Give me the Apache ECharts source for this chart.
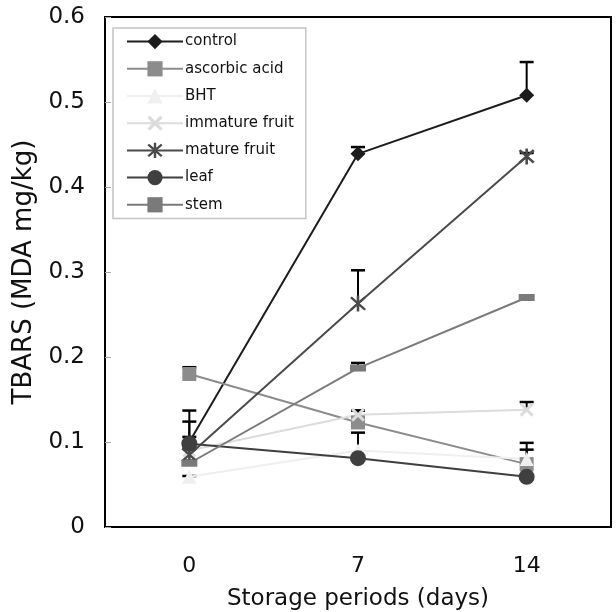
<!DOCTYPE html>
<html>
<head>
<meta charset="utf-8">
<script src="https://cdn.jsdelivr.net/npm/echarts@6/dist/echarts.min.js"></script>
<style>
  html, body { margin: 0; padding: 0; background: #fff; }
  #chart { width: 616px; height: 612px; }
</style>
</head>
<body>
<div id="chart"></div>
<script>
const days = ['0', '7', '14']

// means
const control = [0.100, 0.439, 0.508]
const ascorbicAcid = [0.180, 0.123, 0.074]
const bht = [0.059, 0.090, 0.080]
const immatureFruit = [0.090, 0.132, 0.138]
const matureFruit = [0.085, 0.263, 0.436]
const leaf = [0.098, 0.081, 0.059]
const stem = [0.075, 0.187, 0.270]

// top of error bars (mean + sd)
const controlTop = [0.137, 0.447, 0.547]
const ascorbicTop = [0.188, 0.137, 0.091]
const bhtTop = [0.060, 0.111, 0.099]
const immatureTop = [0.092, 0.137, 0.147]
const matureTop = [0.106, 0.302, 0.440]
const leafTop = [0.124, 0.083, 0.060]
const stemTop = [0.078, 0.193, 0.271]

const yTicks = [0, 0.1, 0.2, 0.3, 0.4, 0.5, 0.6]

const font = 'DejaVu Sans'
const crossPath = 'path://M0,1.5L1.5,0L5,3.5L8.5,0L10,1.5L6.5,5L10,8.5L8.5,10L5,6.5L1.5,10L0,8.5L3.5,5Z'
const starPath = 'path://M4.3,0H5.7V10H4.3Z M0.6,1.6L1.6,0.6L9.4,8.4L8.4,9.4Z M8.4,0.6L9.4,1.6L1.6,9.4L0.6,8.4Z'

const groups = [
  { name: 'control', data: control, top: controlTop, color: '#1c1c1c', symbol: 'diamond', size: 15 },
  { name: 'ascorbic acid', data: ascorbicAcid, top: ascorbicTop, color: '#8c8c8c', symbol: 'rect', size: 14 },
  { name: 'BHT', data: bht, top: bhtTop, color: '#efefef', symbol: 'triangle', size: 14 },
  { name: 'immature fruit', data: immatureFruit, top: immatureTop, color: '#dcdcdc', symbol: crossPath, size: 14 },
  { name: 'mature fruit', data: matureFruit, top: matureTop, color: '#4a4a4a', symbol: starPath, size: 16 },
  { name: 'leaf', data: leaf, top: leafTop, color: '#3f3f3f', symbol: 'circle', size: 16 },
  { name: 'stem', data: stem, top: stemTop, color: '#7a7a7a', symbol: 'rect', size: [16, 7] },
]

const lineSeries = groups.map(g => ({
  name: g.name,
  type: 'line',
  data: g.data,
  symbol: g.symbol,
  symbolSize: g.size,
  showAllSymbol: true,
  lineStyle: { color: g.color, width: 2 },
  itemStyle: { color: g.color },
  z: 3,
}))

const errSeries = groups.map(g => ({
  type: 'custom',
  name: g.name + ' err',
  data: g.data.map((v, i) => [i, v, g.top[i]]),
  z: 2,
  silent: true,
  renderItem: (params, api) => {
    const base = api.coord([api.value(0), api.value(1)])
    const top = api.coord([api.value(0), api.value(2)])
    const hw = 7
    return {
      type: 'group',
      children: [
        { type: 'line', shape: { x1: base[0], y1: base[1], x2: top[0], y2: top[1] }, style: { stroke: '#000', lineWidth: 2 } },
        { type: 'line', shape: { x1: top[0] - hw, y1: top[1], x2: top[0] + hw, y2: top[1] }, style: { stroke: '#000', lineWidth: 2.5 } },
      ],
    }
  },
}))

const chart = echarts.init(document.getElementById('chart'))
chart.setOption({
  animation: false,
  textStyle: { fontFamily: font },
  grid: {
    left: 105, right: 5, top: 17, bottom: 85,
    outerBoundsMode: 'none',
    show: true, borderColor: '#000', borderWidth: 2, backgroundColor: 'transparent',
  },
  legend: {
    orient: 'vertical',
    left: 113, top: 28,
    data: groups.map(g => g.name),
    itemWidth: 56, itemHeight: 19, itemGap: 12,
    padding: [6, 12, 6, 13],
    borderColor: '#c4c4c4', borderWidth: 1.5,
    backgroundColor: '#fff',
    textStyle: { fontFamily: font, fontSize: 15, color: '#111', padding: [0, 0, 0, -3] },
  },
  xAxis: {
    type: 'category',
    data: days,
    boundaryGap: true,
    axisLine: { lineStyle: { color: '#000', width: 2 } },
    axisTick: { inside: true, length: 6, lineStyle: { color: '#aaa' }, alignWithLabel: false },
    axisLabel: { color: '#111', fontSize: 22, margin: 28, fontFamily: font },
    name: 'Storage periods (days)',
    nameLocation: 'middle',
    nameGap: 61,
    nameTextStyle: { fontSize: 23, color: '#111', fontFamily: font },
  },
  yAxis: {
    type: 'value',
    min: 0, max: 0.6, interval: 0.1,
    splitLine: { show: false },
    axisLine: { show: true, lineStyle: { color: '#000', width: 2 } },
    axisTick: { show: true, inside: true, length: 6, lineStyle: { color: '#aaa' } },
    axisLabel: {
      color: '#111', fontSize: 23, margin: 20, fontFamily: font,
      formatter: v => { const t = yTicks.find(x => Math.abs(x - v) < 1e-6); return t === 0 ? '0' : String(+v.toFixed(1)) },
    },
    name: 'TBARS (MDA mg/kg)',
    nameLocation: 'middle',
    nameGap: 64,
    nameTextStyle: { fontSize: 26, color: '#111', fontFamily: font },
  },
  series: [...errSeries, ...lineSeries],
})
</script>
</body>
</html>
